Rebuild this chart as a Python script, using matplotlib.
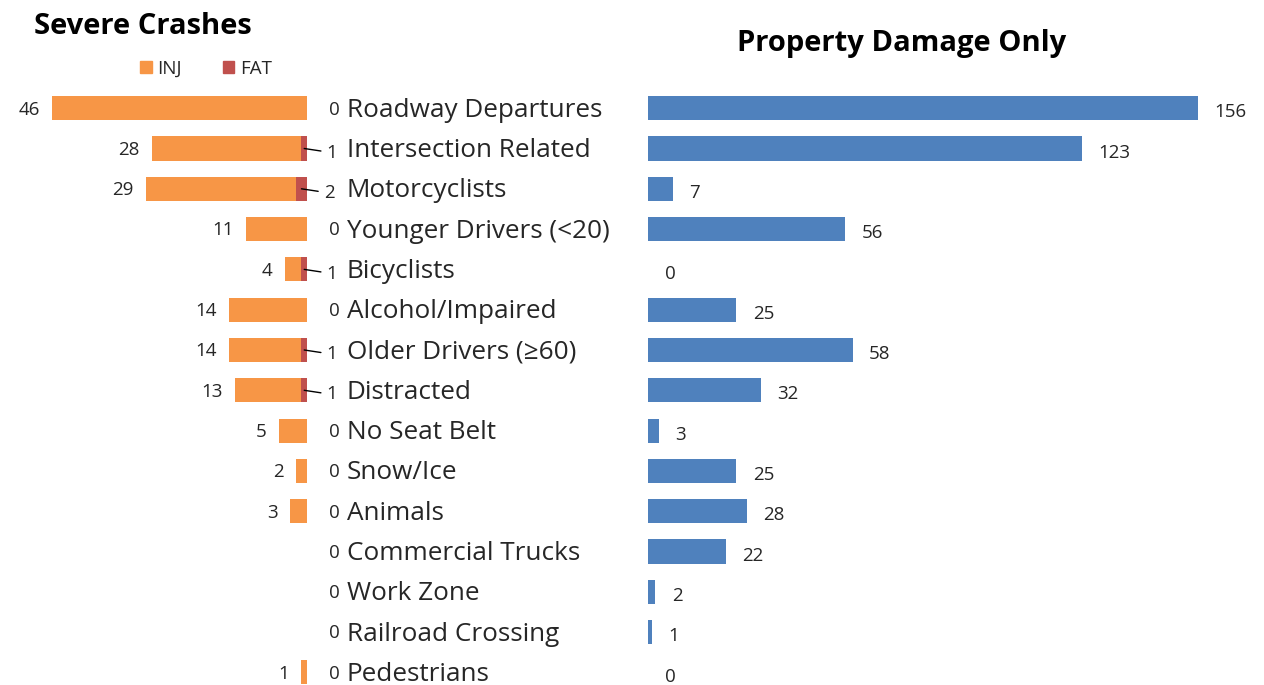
import matplotlib.pyplot as plt
from matplotlib.patches import Patch

plt.rcParams['font.family'] = ['Open Sans', 'DejaVu Sans']

categories = ["Roadway Departures", "Intersection Related", "Motorcyclists",
              "Younger Drivers (<20)", "Bicyclists", "Alcohol/Impaired",
              "Older Drivers (\u226560)", "Distracted", "No Seat Belt", "Snow/Ice",
              "Animals", "Commercial Trucks", "Work Zone", "Railroad Crossing",
              "Pedestrians"]
inj = [46, 28, 29, 11, 4, 14, 14, 13, 5, 2, 3, 0, 0, 0, 1]
fat = [0, 1, 2, 0, 1, 0, 1, 1, 0, 0, 0, 0, 0, 0, 0]
pdo = [156, 123, 7, 56, 0, 25, 58, 32, 3, 25, 28, 22, 2, 1, 0]

orange = "#F79646"
red = "#C0504D"
blue = "#4F81BD"
txt = "#262626"

W, H = 1264, 685
fig = plt.figure(figsize=(W / 100, H / 100), dpi=100)

# vertical layout: row 0 centred at 108px, spacing 40.3px
y_top = -0.5
y_bot = 14 + (H - 672.4) / 40.3
ax_h = (y_bot - y_top) * 40.3 / H

ax_l = fig.add_axes([0, 0, 307 / W, ax_h])
ax_r = fig.add_axes([648 / W, 0, (W - 648) / W, ax_h])

rows = list(range(len(categories)))

# left: severe crashes, bars growing to the left
ax_l.barh(rows, inj, height=0.6, color=orange)
ax_l.barh(rows, fat, height=0.6, color=red)
ax_l.set_xlim(307 / 5.54, 0)
ax_l.set_ylim(y_bot, y_top)

for i, (a, b, name) in enumerate(zip(inj, fat, categories)):
    if a > 0:
        ax_l.annotate(str(a), xy=(a, i), xytext=(-9, -1), textcoords="offset points",
                      ha="right", va="center", fontsize=13.5, color=txt)
    if b > 0:
        ax_l.annotate(str(b), xy=(b / 2, i), xytext=(16, -3), textcoords="offset points",
                      ha="left", va="center", fontsize=13.5, color=txt,
                      arrowprops=dict(arrowstyle="-", color="black", lw=1,
                                      shrinkA=2, shrinkB=0))
    else:
        ax_l.annotate(str(b), xy=(0, i), xytext=(16, -1), textcoords="offset points",
                      ha="left", va="center", fontsize=13.5, color=txt)
    ax_l.annotate(name, xy=(0, i), xytext=(28.5, -1.5), textcoords="offset points",
                  ha="left", va="center", fontsize=18.8, color=txt)

# right: property damage only
ax_r.barh(rows, pdo, height=0.6, color=blue)
ax_r.set_xlim(0, (W - 648) / 3.526)
ax_r.set_ylim(y_bot, y_top)
for i, v in enumerate(pdo):
    ax_r.annotate(str(v), xy=(v, i), xytext=(12, -3), textcoords="offset points",
                  ha="left", va="center", fontsize=13.5, color=txt)

for ax in (ax_l, ax_r):
    ax.axis("off")

fig.text(34 / W, 1 - 27 / H, "Severe Crashes", fontsize=21, fontweight="bold",
         color="black", ha="left", va="center")
fig.text(902 / W, 1 - 43 / H, "Property Damage Only", fontsize=21, fontweight="bold",
         color="black", ha="center", va="center")

handles = [Patch(color=orange, label="INJ"), Patch(color=red, label="FAT")]
fig.legend(handles=handles, loc="center", bbox_to_anchor=(206 / W, 1 - 69 / H),
           ncol=2, frameon=False, fontsize=13.5, handlelength=0.6, handleheight=0.6,
           handletextpad=0.3, columnspacing=2.2, labelcolor=txt)

fig.savefig("out.png", dpi=100)
